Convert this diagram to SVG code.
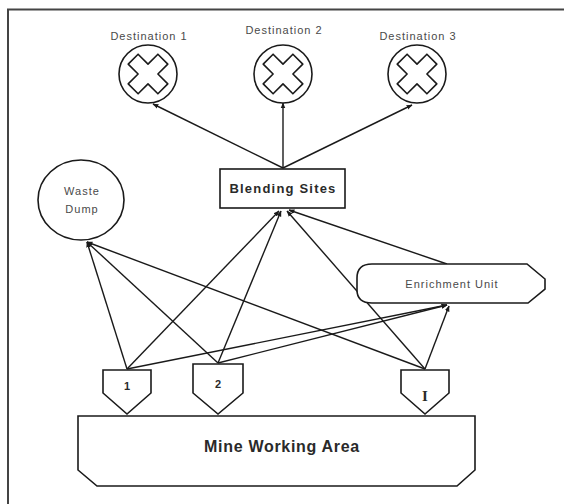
<svg xmlns="http://www.w3.org/2000/svg" width="564" height="504" viewBox="0 0 564 504">
<style>
.shape{fill:#fff;stroke:#1a1a1a;stroke-width:1.6}
.lbl{font-family:"Liberation Sans",Arial,sans-serif;font-size:11px;fill:#4a4a4a;letter-spacing:1px;text-anchor:middle}
.bold{font-family:"Liberation Sans",Arial,sans-serif;font-weight:bold;fill:#2a2a2a;text-anchor:middle}
.edge{stroke:#1a1a1a;stroke-width:1.4;fill:none;marker-end:url(#ah)}
</style>
<defs>
<marker id="ah" viewBox="0 0 10 10" refX="9" refY="5" markerWidth="6" markerHeight="6" orient="auto" markerUnits="userSpaceOnUse">
<path d="M0,1 L10,5 L0,9 Z" fill="#1a1a1a"/>
</marker>
<g id="dest">
<circle r="29" class="shape"/>
<polygon transform="rotate(45)" points="7,21 7,7 21,7 21,-7 7,-7 7,-21 -7,-21 -7,-7 -21,-7 -21,7 -7,7 -7,21" class="shape" stroke-linejoin="round"/>
</g>
</defs>
<rect width="564" height="504" fill="#fff"/>
<path d="M8,504 L8,9.5 L564,9.5" fill="none" stroke="#444" stroke-width="2"/>

<g id="connectors">
<line class="edge" x1="283" y1="168" x2="153" y2="104"/>
<line class="edge" x1="283" y1="168" x2="283" y2="103"/>
<line class="edge" x1="283" y1="168" x2="412" y2="105"/>
<line class="edge" x1="127" y1="369" x2="87" y2="242"/>
<line class="edge" x1="218" y1="363" x2="87" y2="242"/>
<line class="edge" x1="425" y1="369" x2="87" y2="242"/>
<line class="edge" x1="127" y1="369" x2="279" y2="211"/>
<line class="edge" x1="218" y1="363" x2="281" y2="211"/>
<line class="edge" x1="425" y1="369" x2="287" y2="211"/>
<line class="edge" x1="447" y1="264" x2="289" y2="210"/>
<line class="edge" x1="127" y1="369" x2="447" y2="305"/>
<line class="edge" x1="218" y1="363" x2="447" y2="305"/>
<line class="edge" x1="425" y1="369" x2="449" y2="306"/>
</g>

<g id="destination1">
<use href="#dest" x="148" y="74"/>
<text class="lbl" x="149" y="40">Destination 1</text>
</g>
<g id="destination2">
<use href="#dest" x="283" y="74"/>
<text class="lbl" x="284" y="34">Destination 2</text>
</g>
<g id="destination3">
<use href="#dest" x="417" y="74"/>
<text class="lbl" x="418" y="40">Destination 3</text>
</g>

<g id="waste-dump">
<ellipse cx="81" cy="200" rx="43" ry="40" class="shape"/>
<text class="lbl" x="82" y="195" letter-spacing="0.5">Waste</text>
<text class="lbl" x="82" y="213" letter-spacing="0.5">Dump</text>
</g>

<g id="blending-sites">
<rect x="220" y="169" width="125" height="39" class="shape"/>
<text class="bold" x="283" y="193" font-size="13" letter-spacing="1.2">Blending Sites</text>
</g>

<g id="enrichment-unit">
<path class="shape" d="M372,264 L527,264 L545,279 L545,289 L528,303 L372,303 Q357,303 357,290 L357,278 Q357,264 372,264 Z"/>
<text class="lbl" x="452" y="288" letter-spacing="1.4">Enrichment Unit</text>
</g>

<g id="shovel1">
<polygon class="shape" points="103,370 151,370 151,393 127,414 103,393"/>
<text class="bold" x="127" y="390" font-size="11">1</text>
</g>
<g id="shovel2">
<polygon class="shape" points="193,364 243,364 243,393 218,414 193,393"/>
<text class="bold" x="218" y="388" font-size="11">2</text>
</g>
<g id="shovelI">
<polygon class="shape" points="401,370 449,370 449,393 425,414 401,393"/>
<text x="425" y="401" font-family="'Liberation Serif',serif" font-weight="bold" font-size="15" fill="#2a2a2a" text-anchor="middle">I</text>
</g>

<g id="mine-working-area">
<path class="shape" d="M78,416 L475,416 L475,470 L457,486 L97,486 L78,470 Z"/>
<text class="bold" x="282" y="452" font-size="16" letter-spacing="0.7">Mine Working Area</text>
</g>
</svg>
